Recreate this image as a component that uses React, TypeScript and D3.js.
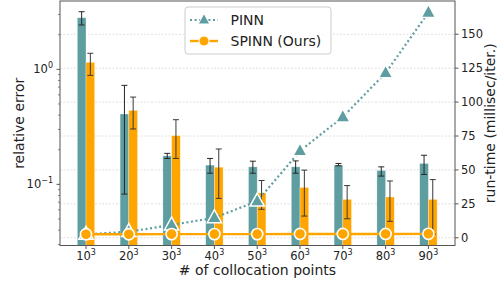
import React from 'react';
import * as d3 from 'd3';

const bases = ['10', '20', '30', '40', '50', '60', '70', '80', '90'];

// relative error (left, log axis)
const pinnErr = [2.81, 0.409, 0.177, 0.147, 0.142, 0.142, 0.147, 0.132, 0.152];
const pinnErrLo = [2.43, 0.0823, 0.168, 0.125, 0.125, 0.125, 0.145, 0.118, 0.122];
const pinnErrHi = [3.17, 0.726, 0.186, 0.168, 0.159, 0.16, 0.152, 0.142, 0.179];
const spinnErr = [1.15, 0.44, 0.265, 0.141, 0.0843, 0.094, 0.074, 0.0776, 0.074];
const spinnErrLo = [0.887, 0.303, 0.168, 0.0755, 0.0607, 0.053, 0.0502, 0.0477, 0.037];
const spinnErrHi = [1.38, 0.574, 0.365, 0.203, 0.108, 0.133, 0.0976, 0.107, 0.11];

// run-time (right axis)
const pinnTime = [2.5, 4.5, 9.4, 14.7, 27, 64, 89, 121.5, 166];
const spinnTime = [2.6, 2.6, 2.7, 2.7, 2.7, 2.8, 2.8, 2.8, 2.9];

const rightTicks = [0, 25, 50, 75, 100, 125, 150];

const TEAL = '#5f9ea0';
const ORANGE = '#ffa500';
const FONT = 'DejaVu Sans, sans-serif';

export default function App() {
  const W = 498, H = 282;
  const left = 60, right = 455, top = 1, bottom = 245.5;

  const x = d3.scalePoint<string>().domain(bases).range([86, 428.4]);
  const yLog = d3.scaleLog().domain([0.0294, 3.93]).range([bottom, top]);
  const yTime = d3.scaleLinear().domain([-5.7, 174.5]).range([bottom, top]);
  const barW = 8.7;

  const minorTicks: number[] = [];
  [0.01, 0.1, 1].forEach(dec => {
    for (let k = 2; k <= 9; k++) {
      const v = dec * k;
      if (v > 0.0294 && v < 3.93) minorTicks.push(v);
    }
  });

  const pinnLine = d3.line<number>().x((_, i) => x(bases[i])!).y(d => yTime(d));
  const spinnLine = d3.line<number>().x((_, i) => x(bases[i])!).y(d => yTime(d));

  const tri = (cx: number, cy: number, s: number) =>
    `M${cx},${cy - s * 0.62} L${cx + s * 0.55},${cy + s * 0.38} L${cx - s * 0.55},${cy + s * 0.38} Z`;

  const errBar = (cx: number, lo: number, hi: number, key: string, color: string) => (
    <g key={key} stroke={color} strokeWidth={1}>
      <line x1={cx} x2={cx} y1={yLog(lo)} y2={yLog(hi)} />
      <line x1={cx - 3} x2={cx + 3} y1={yLog(lo)} y2={yLog(lo)} />
      <line x1={cx - 3} x2={cx + 3} y1={yLog(hi)} y2={yLog(hi)} />
    </g>
  );

  return (
    <svg width={W} height={H} style={{ position: 'absolute', left: 0, top: 0, background: '#fff' }} fontFamily={FONT}>
      <defs>
        <clipPath id="plot">
          <rect x={left} y={top} width={right - left} height={bottom - top} />
        </clipPath>
      </defs>

      {/* grid from right axis */}
      {rightTicks.map(t => (
        <line key={'g' + t} x1={left} x2={right} y1={yTime(t)} y2={yTime(t)}
          stroke="#d8d8d8" strokeWidth={0.8} strokeDasharray="2,1.5" />
      ))}

      <g clipPath="url(#plot)">
        {bases.map((b, i) => {
          const cx = x(b)!;
          return (
            <g key={'b' + b}>
              <rect x={cx - barW} y={yLog(pinnErr[i])} width={barW} height={bottom - yLog(pinnErr[i])}
                fill={TEAL} stroke="#ffffff" strokeOpacity={0.5} strokeWidth={0.6} />
              <rect x={cx} y={yLog(spinnErr[i])} width={barW} height={bottom - yLog(spinnErr[i])}
                fill={ORANGE} stroke="#ffffff" strokeOpacity={0.5} strokeWidth={0.6} />
            </g>
          );
        })}
        {bases.map((b, i) => errBar(x(b)! - barW / 2, pinnErrLo[i], pinnErrHi[i], 'ep' + b, '#262626'))}
        {bases.map((b, i) => errBar(x(b)! + barW / 2, spinnErrLo[i], spinnErrHi[i], 'es' + b, '#3a3a3a'))}

        {/* PINN run-time */}
        <path d={pinnLine(pinnTime)!} fill="none" stroke={TEAL} strokeWidth={2.2} strokeDasharray="2,2.6" />
        {pinnTime.map((t, i) => (
          <path key={'t' + i} d={tri(x(bases[i])!, yTime(t), 13)} fill={TEAL} stroke="#fff" strokeWidth={1.5} />
        ))}

        {/* SPINN run-time */}
        <path d={spinnLine(spinnTime)!} fill="none" stroke={ORANGE} strokeWidth={2.4} />
        {spinnTime.map((t, i) => (
          <circle key={'c' + i} cx={x(bases[i])!} cy={yTime(t)} r={5.6} fill={ORANGE} stroke="#fff" strokeWidth={1.6} />
        ))}
      </g>

      {/* spines */}
      <rect x={left} y={top} width={right - left} height={bottom - top} fill="none" stroke="#555" strokeWidth={1} />

      {/* x axis */}
      {bases.map(b => (
        <g key={'x' + b}>
          <line x1={x(b)!} x2={x(b)!} y1={bottom} y2={bottom + 3.5} stroke="#555" />
          <text x={x(b)!} y={259.5} textAnchor="middle" fontSize={11.5} fill="#222">
            {b}<tspan fontSize={8} dy={-5}>3</tspan>
          </text>
        </g>
      ))}
      <text x={257.5} y={275} textAnchor="middle" fontSize={14} fill="#222"># of collocation points</text>

      {/* left log axis */}
      {minorTicks.map(v => (
        <line key={'m' + v} x1={left - 2} x2={left} y1={yLog(v)} y2={yLog(v)} stroke="#555" strokeWidth={0.7} />
      ))}
      {[1, 0.1].map(v => (
        <g key={'l' + v}>
          <line x1={left - 3.5} x2={left} y1={yLog(v)} y2={yLog(v)} stroke="#555" />
          <text x={53} y={yLog(v) + 4} textAnchor="end" fontSize={11.5} fill="#222">
            10<tspan fontSize={8} dy={-5}>{v === 1 ? '0' : '\u22121'}</tspan>
          </text>
        </g>
      ))}
      <text transform={`translate(24,${(top + bottom) / 2}) rotate(-90)`} textAnchor="middle" fontSize={14} fill="#222">relative error</text>

      {/* right axis */}
      {rightTicks.map(t => (
        <g key={'r' + t}>
          <line x1={right} x2={right + 3.5} y1={yTime(t)} y2={yTime(t)} stroke="#555" />
          <text x={461} y={yTime(t) + 4} fontSize={11.5} fill="#222">{t}</text>
        </g>
      ))}
      <text transform={`translate(494.5,${(top + bottom) / 2}) rotate(-90)`} textAnchor="middle" fontSize={14} fill="#222">run-time (millisec/iter.)</text>

      {/* legend */}
      <g>
        <rect x={185} y={7} width={146} height={47} rx={3} fill="#fff" fillOpacity={0.85} stroke="#cccccc" />
        <line x1={190} x2={218} y1={20} y2={20} stroke={TEAL} strokeWidth={2.2} strokeDasharray="2,2.6" />
        <path d={tri(204, 20, 10.5)} fill={TEAL} stroke="#fff" strokeWidth={1} />
        <text x={230.5} y={25} fontSize={14} fill="#222">PINN</text>
        <line x1={190} x2={218} y1={41} y2={41} stroke={ORANGE} strokeWidth={2.4} />
        <circle cx={204} cy={41} r={5} fill={ORANGE} stroke="#fff" strokeWidth={1} />
        <text x={230.5} y={46} fontSize={14} fill="#222">SPINN (Ours)</text>
      </g>
    </svg>
  );
}
